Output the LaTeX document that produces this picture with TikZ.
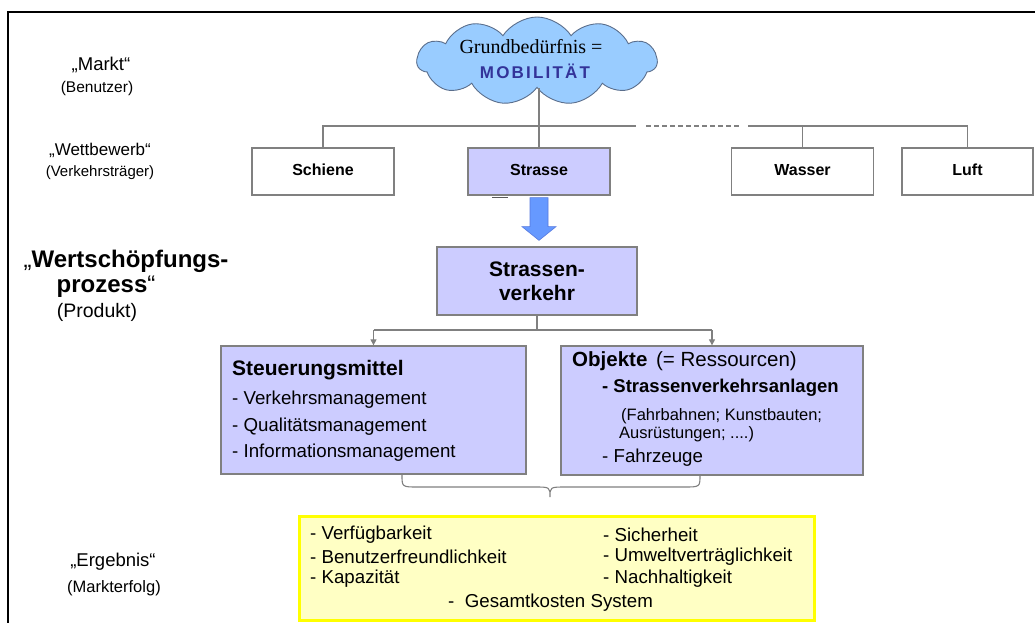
\documentclass[tikz,border=0pt]{standalone}
\usepackage{fontspec}
\setmainfont{Liberation Sans}
\newfontfamily\serifface{Liberation Serif}
\usetikzlibrary{shapes.symbols,arrows.meta,calc}

\definecolor{lav}{HTML}{CCCCFF}
\definecolor{edge}{HTML}{808080}
\definecolor{cloudblue}{HTML}{99CCFF}
\definecolor{cloudedge}{HTML}{5A6E8C}
\definecolor{mobblue}{HTML}{333399}
\definecolor{paleyellow}{HTML}{FFFFC4}
\definecolor{boxyellow}{HTML}{FFFF00}
\definecolor{arrowblue}{HTML}{6699FF}
\definecolor{arrowedge}{HTML}{5577DD}

\newcommand\fs[1]{\fontsize{#1}{#1}\selectfont}

\begin{document}
\begin{tikzpicture}[x=1pt,y=-1pt,
  mode/.style={draw=edge, line width=1.3pt, fill=white, minimum width=142pt,
    minimum height=47pt, inner sep=0pt, text height=11.5pt, text depth=3.5pt,
    font=\fs{16}\bfseries},
  lavbox/.style={draw=edge, line width=1.3pt, fill=lav, inner sep=0pt},
  lbl/.style={inner sep=0pt, align=center},
  txt/.style={inner sep=0pt, anchor=west},
  link/.style={draw=edge, line width=1.1pt},
  tip/.style={-{Triangle[length=6pt,width=6pt]}}
]
\useasboundingbox (0,0) rectangle (1035,623);

% outer frame (top and left edges)
\draw[line width=2.5pt] (8,623) -- (8,12) -- (1035,12);

% left-hand level labels
\node[lbl, font=\fs{18.5}] (markt) at (101,65) {„Markt“};
\node[lbl, font=\fs{15.5}] (benutzer) at (97,88) {(Benutzer)};
\node[lbl, font=\fs{17}] (wettbewerb) at (100,150) {„Wettbewerb“};
\node[lbl, font=\fs{15}] (vtraeger) at (100,173) {(Verkehrsträger)};
\node[lbl, font=\fs{24}] (wsp) at (126,261) {„\textbf{Wertschöpfungs-}};
\node[lbl, font=\fs{24}] (prozess) at (106,287) {\textbf{prozess}“};
\node[lbl, font=\fs{19.5}] (produkt) at (97,312) {(Produkt)};
\node[lbl, font=\fs{18.5}] (ergebnisl) at (113,562) {„Ergebnis“};
\node[lbl, font=\fs{16.5}] (markterfolg) at (114,588) {(Markterfolg)};

% basic need cloud
\node[cloud, cloud puffs=11, cloud puff arc=115, aspect=2.7, draw=cloudedge,
  line width=0.9pt, fill=cloudblue, minimum width=240pt, minimum height=88pt,
  inner sep=0pt] (cloud) at (537,61) {};
\node[lbl, font=\serifface\fs{20}] (need) at (531,47) {Grundbedürfnis =};
\node[lbl, font=\fs{17}\bfseries, text=mobblue] (mob) at (535,71)
  {M\kern2.2pt O\kern2.2pt B\kern2.2pt I\kern2.2pt L\kern2.2pt I\kern2.2pt T\kern2.2pt Ä\kern2.2pt T};

% modes of transport
\node[mode] (schiene) at (323,171.5) {Schiene};
\node[mode, fill=lav] (strasse) at (539,171.5) {Strasse};
\node[mode] (wasser) at (802.5,171.5) {Wasser};
\node[mode, minimum width=131pt] (luft) at (967.5,171.5) {Luft};

% bus from the cloud to the modes
\coordinate (busY) at (0,126);
\draw[link] (cloud.south -| strasse.north) -- (strasse.north);
\draw[link] (schiene.north) -- (schiene.north |- busY) -- (636,126);
\draw[link, dashed, dash pattern=on 5pt off 3pt] (646,126) -- (740,126);
\draw[link] (748,126) -- (luft.north |- busY) -- (luft.north);
\draw[link] (wasser.north) -- (wasser.north |- busY);

% small mark below Strasse
\draw[draw=edge!70!black, line width=1.2pt] (492,197.5) -- (508,197.5);

% road transport
\node[lavbox, minimum width=200pt, minimum height=68pt, align=center,
  font=\fontsize{21}{24}\selectfont\bfseries] (sv) at (537,281) {Strassen-\\verkehr};

% block arrow Strasse -> Strassenverkehr
\path[fill=arrowblue, draw=arrowedge, line width=0.6pt]
  ($(strasse.south)+(-9,2)$) -- ++(0,29) -- ++(-8,0) -- ($(sv.north)+(2,-6)$)
  -- ($(strasse.south)+(17,31)$) -- ++(-8,0) -- ++(0,-29) -- cycle;

% control means and objects
\node[lavbox, minimum width=305pt, minimum height=128pt] (steuer) at (373.5,410) {};
\node[lavbox, minimum width=302pt, minimum height=129pt] (objekte) at (712,410.5) {};

\coordinate (split) at (0,330);
\draw[link] (sv.south) -- (sv.south |- split);
\draw[link, tip] (steuer.north |- split) -- (steuer.north);
\draw[link, tip] (objekte.north |- split) -- (objekte.north);
\draw[link] (steuer.north |- split) -- (objekte.north |- split);

\node[txt, font=\fs{21}\bfseries] (st1) at (232,370) {Steuerungsmittel};
\node[txt, font=\fs{18.7}] (st2) at (232,400) {- Verkehrsmanagement};
\node[txt, font=\fs{18.7}] (st3) at (232,427) {- Qualitätsmanagement};
\node[txt, font=\fs{18.7}] (st4) at (232,453) {- Informationsmanagement};

\node[txt, font=\fs{20.5}] (ob1) at (572,361) {\textbf{Objekte}\hspace{3pt} (= Ressourcen)};
\node[txt, font=\fs{18.5}\bfseries] (ob2) at (602,388) {- Strassenverkehrsanlagen};
\node[txt, font=\fs{16.5}] (ob3) at (621,416) {(Fahrbahnen; Kunstbauten;};
\node[txt, font=\fs{16.5}] (ob4) at (619,434) {Ausrüstungen; ....)};
\node[txt, font=\fs{18.7}] (ob5) at (602,458) {- Fahrzeuge};

% brace joining both boxes
\draw[link] (402,475) .. controls (402,487) .. (418,487) -- (534,487)
  .. controls (550,487) .. (550,497)
  .. controls (550,487) .. (566,487) -- (684,487)
  .. controls (700,487) .. (700,475);

% result box
\node[draw=boxyellow, line width=3pt, fill=paleyellow, minimum width=515pt,
  minimum height=104pt, inner sep=0pt] (ergebnis) at (556.5,568) {};
\node[txt, font=\fs{18.7}] (e1) at (310,535) {- Verfügbarkeit};
\node[txt, font=\fs{18.7}] (e2) at (310,557) {- Benutzerfreundlichkeit};
\node[txt, font=\fs{18.7}] (e3) at (310,579) {- Kapazität};
\node[txt, font=\fs{18.7}] (e4) at (603,535) {- Sicherheit};
\node[txt, font=\fs{18.7}] (e5) at (603,557) {- Umweltverträglichkeit};
\node[txt, font=\fs{18.7}] (e6) at (603,579) {- Nachhaltigkeit};
\node[txt, font=\fs{18.7}] (e7) at (448,603) {-\ \ Gesamtkosten System};
\end{tikzpicture}
\end{document}
